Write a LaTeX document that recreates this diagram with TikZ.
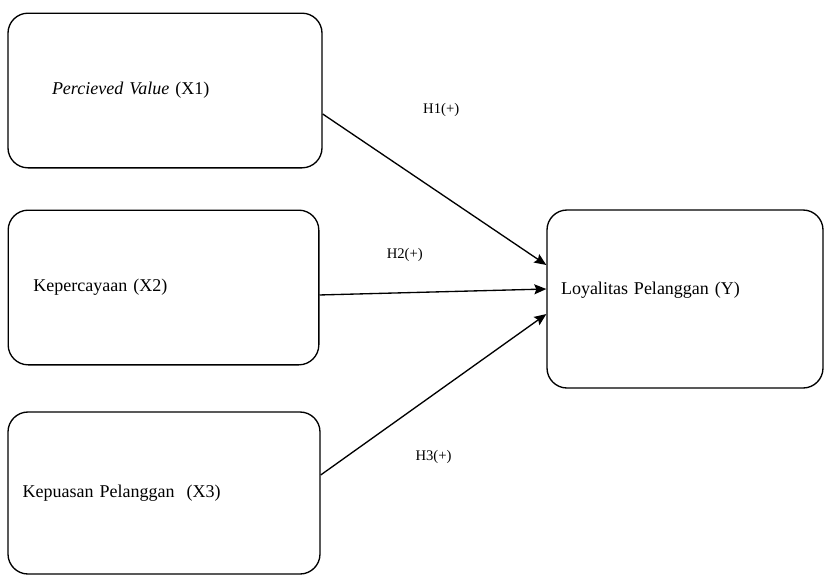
\documentclass[tikz,border=0pt]{standalone}
\usepackage{fontspec}
\setmainfont{Liberation Serif}
\usepackage{tikz}
\usetikzlibrary{arrows.meta, positioning}

\newcommand{\boxfont}{\fontsize{13.5}{16}\selectfont}
\newcommand{\hypfont}{\fontsize{11}{13}\selectfont}

\begin{document}
\begin{tikzpicture}[
    x=0.75pt, y=-0.75pt,
    box/.style={rectangle, draw, rounded corners=15pt, line width=1pt, align=left, font=\boxfont},
    hyp/.style={font=\hypfont},
    arrow/.style={line width=1pt,->,>={Stealth[length=9pt,width=7.5pt,inset=1.5pt]}}
]
\useasboundingbox (0,0) rectangle (824,576);

\node (x1) [box, minimum height=116pt, inner xsep=33pt, text width=169.5pt] at (165,90.5) {\textit{Percieved Value} (X1)};
\node (x2) [box, minimum height=116pt, inner xsep=19pt, text width=195pt] at (163.5,287.5) {Kepercayaan (X2)};
\node (x3) [box, minimum height=121.5pt, inner xsep=11pt, text width=212pt] at (164,493) {Kepuasan Pelanggan \ (X3)};
\node (y) [box, minimum height=133.5pt, inner xsep=10.5pt, text width=186pt, text depth=16pt] at (685,299) {Loyalitas Pelanggan (Y)};

\draw [arrow] ([yshift=-17.6pt]x1.east) -- node[hyp, pos=0.53, yshift=63pt] {H1(+)} ([yshift=25.5pt]y.west);
\draw [arrow] ([yshift=-5.6pt]x2.east) -- node[hyp, pos=0.376, yshift=28pt] {H2(+)} ([yshift=7.5pt]y.west);
\draw [arrow] ([yshift=13.5pt]x3.east) -- node[hyp, pos=0.5, yshift=-47pt] {H3(+)} ([yshift=-11.3pt]y.west);

\end{tikzpicture}
\end{document}
